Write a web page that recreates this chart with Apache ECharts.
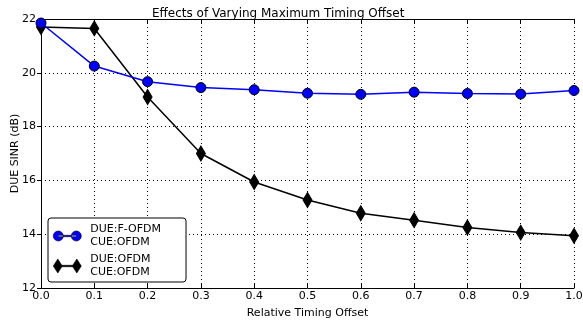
<!DOCTYPE html>
<html>
<head>
<meta charset="utf-8">
<script src="https://cdn.jsdelivr.net/npm/echarts@6/dist/echarts.min.js"></script>
<style>
  html, body { margin: 0; padding: 0; background: #fff; }
  #chart { width: 583px; height: 325px; }
</style>
</head>
<body>
<div id="chart"></div>
<script>
// relative timing offset
const offsets = [0.0, 0.1, 0.2, 0.3, 0.4, 0.5, 0.6, 0.7, 0.8, 0.9, 1.0]
// DUE:F-OFDM / CUE:OFDM
const fofdm = [21.85, 20.25, 19.67, 19.45, 19.37, 19.24, 19.2, 19.28, 19.23, 19.21, 19.34]
// DUE:OFDM / CUE:OFDM
const ofdm = [21.7, 21.65, 19.1, 17.0, 15.94, 15.27, 14.78, 14.52, 14.25, 14.06, 13.94]

const seriesNames = ['DUE:F-OFDM\nCUE:OFDM', 'DUE:OFDM\nCUE:OFDM']

const font = 'DejaVu Sans'
const chart = echarts.init(document.getElementById('chart'))

const pair = (arr) => offsets.map((x, i) => [x, arr[i]])

// legend icons: marker - line - marker, like matplotlib
const circleIcon = 'path://M0,5a5,5 0 1,0 10,0a5,5 0 1,0 -10,0Z M18,5a5,5 0 1,0 10,0a5,5 0 1,0 -10,0Z M5,4.3H23V5.7H5Z'
const diamondIcon = 'path://M0,7L4.5,0L9,7L4.5,14Z M19,7L23.5,0L28,7L23.5,14Z M4.5,6.3H23.5V7.7H4.5Z'

const hiddenAxis = {
  axisLine: { show: true, lineStyle: { color: '#000', width: 1 } },
  axisTick: { show: true, inside: true, length: 4, lineStyle: { color: '#000' } },
  axisLabel: { show: false },
  splitLine: { show: false }
}

const option = {
  animation: false,
  backgroundColor: '#fff',
  textStyle: { fontFamily: font },
  title: {
    text: 'Effects of Varying Maximum Timing Offset',
    left: 147,
    top: 3,
    textStyle: { fontFamily: font, fontSize: 12, fontWeight: 'normal', color: '#000' }
  },
  grid: { left: 41, right: 9, top: 19, bottom: 37, outerBoundsMode: 'none', containLabel: false },
  legend: {
    data: [
      { name: seriesNames[0], icon: circleIcon },
      { name: seriesNames[1], icon: diamondIcon }
    ],
    orient: 'vertical',
    left: 48,
    top: 218,
    itemWidth: 28,
    itemHeight: 14,
    itemGap: 4,
    padding: [5, 25, 3, 5],
    backgroundColor: '#fff',
    borderColor: '#000',
    borderWidth: 1,
    borderRadius: 3,
    itemStyle: { borderWidth: 0.6 },
    textStyle: { fontFamily: font, fontSize: 11, color: '#000', lineHeight: 13, padding: [0, 0, 0, 4] }
  },
  xAxis: [
    {
      type: 'value',
      min: 0, max: 1, interval: 0.1,
      name: 'Relative Timing Offset',
      nameLocation: 'middle',
      nameGap: 20,
      nameMoveOverlap: false,
      nameTextStyle: { fontFamily: font, fontSize: 11, color: '#000' },
      axisLine: { show: true, lineStyle: { color: '#000', width: 1 } },
      axisTick: { show: true, inside: true, length: 4, lineStyle: { color: '#000' } },
      axisLabel: { fontFamily: font, fontSize: 11, color: '#000', margin: 3,
        formatter: (v) => v.toFixed(1) },
      splitLine: { show: true, lineStyle: { color: '#000', type: [1, 3], width: 1 } }
    },
    Object.assign({ type: 'value', position: 'top', min: 0, max: 1, interval: 0.1 }, hiddenAxis)
  ],
  yAxis: [
    {
      type: 'value',
      min: 12, max: 22, interval: 2,
      name: 'DUE SINR (dB)',
      nameLocation: 'middle',
      nameGap: 20,
      nameMoveOverlap: false,
      nameTextStyle: { fontFamily: font, fontSize: 11, color: '#000' },
      axisLine: { show: true, lineStyle: { color: '#000', width: 1 } },
      axisTick: { show: true, inside: false, length: 3, lineStyle: { color: '#000' } },
      axisLabel: { fontFamily: font, fontSize: 11, color: '#000', margin: 5 },
      splitLine: { show: true, lineStyle: { color: '#000', type: [1, 3], width: 1 } }
    },
    Object.assign({ type: 'value', position: 'right', min: 12, max: 22, interval: 2 }, hiddenAxis)
  ],
  series: [
    {
      name: seriesNames[0],
      type: 'line',
      data: pair(fofdm),
      symbol: 'circle',
      symbolSize: 10,
      lineStyle: { color: '#0000ff', width: 1.5 },
      itemStyle: { color: '#0000ff', borderColor: '#000', borderWidth: 1 },
      z: 3
    },
    {
      name: seriesNames[1],
      type: 'line',
      data: pair(ofdm),
      symbol: 'diamond',
      symbolSize: [9, 15],
      lineStyle: { color: '#000', width: 1.5 },
      itemStyle: { color: '#000', borderColor: '#000', borderWidth: 1 },
      z: 2
    }
  ]
}

chart.setOption(option)
</script>
</body>
</html>
